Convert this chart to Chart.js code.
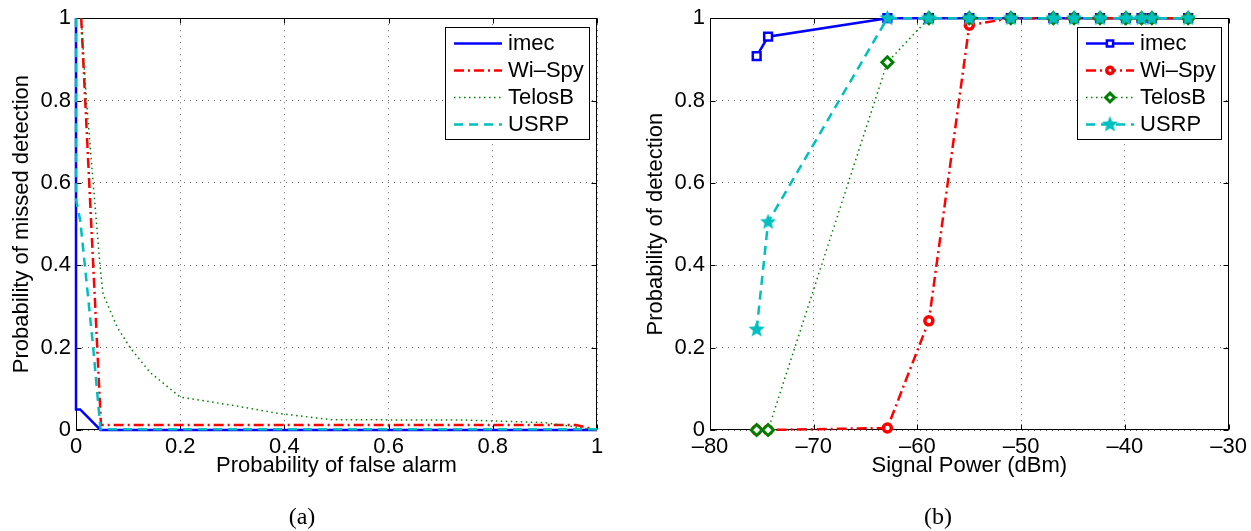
<!DOCTYPE html>
<html>
<head>
<meta charset="utf-8">
<script src="https://cdn.jsdelivr.net/npm/chart.js@4.4.1/dist/chart.umd.min.js"></script>
<style>
	body { margin:0; background:#fff; width:1251px; height:531px; position:relative; overflow:hidden; }
	.panel { position:absolute; top:0; }
	#left-panel { left:0; }
	#right-panel { left:634px; }
	.caption { position:absolute; top:503px; font-family:"Liberation Serif", serif; font-size:24px; color:#000; transform:translateX(-50%); }
</style>
</head>
<body>
<div class="panel" id="left-panel"><canvas id="roc-graph" width="640" height="531"></canvas></div>
<div class="panel" id="right-panel"><canvas id="pd-graph" width="617" height="531"></canvas></div>
<div class="caption" style="left:302px">(a)</div>
<div class="caption" style="left:938px">(b)</div>
<script>
/*************************
DATA
*************************/

//(a) probability of false alarm vs probability of missed detection
const imecFa = [0, 0, 0.008, 0.047, 1];
const imecMiss = [1, 0.05, 0.05, 0, 0];
const wispyFa = [0.01, 0.048, 0.96, 0.99, 1];
const wispyMiss = [1, 0.012, 0.012, 0.003, 0];
const telosbFa = [0.01, 0.02, 0.033, 0.046, 0.052, 0.079, 0.104, 0.142, 0.2, 0.3, 0.39, 0.49, 0.75, 0.9, 0.97, 1];
const telosbMiss = [1, 0.8, 0.6, 0.4, 0.33, 0.25, 0.2, 0.14, 0.08, 0.06, 0.04, 0.025, 0.024, 0.018, 0.005, 0];
const usrpFa = [0, 0, 0.008, 0.017, 0.033, 0.047, 1];
const usrpMiss = [1, 0.56, 0.51, 0.4, 0.2, 0.002, 0.002];

//(b) signal power vs probability of detection
const signalPower = [-75.5, -74.4, -62.9, -58.9, -55.0, -51.0, -46.9, -44.9, -42.4, -39.9, -38.4, -37.4, -33.9];
const imecPd = [0.908, 0.955, 1, 1, 1, 1, 1, 1, 1, 1, 1, 1, 1];
const wispyPd = [0, 0, 0.005, 0.265, 0.983, 1, 1, 1, 1, 1, 1, 1, 1];
const telosbPd = [0, 0, 0.893, 1, 1, 1, 1, 1, 1, 1, 1, 1, 1];
const usrpPd = [0.244, 0.505, 1, 1, 1, 1, 1, 1, 1, 1, 1, 1, 1];

const seriesNames = ['imec', 'Wi\u2013Spy', 'TelosB', 'USRP'];

/*************************
STYLE
*************************/

const blue = '#0000ff';
const red = '#ff0000';
const green = '#008000';
const cyan = '#00bfbf';
const textFont = '"Liberation Sans", Arial, sans-serif';

Chart.defaults.font.family = textFont;
Chart.defaults.font.size = 22;
Chart.defaults.color = '#000';

//filled five point star, used as point style for the USRP markers
function StarImage(color, size){
	const c = document.createElement('canvas');
	c.width = size;
	c.height = size;
	const g = c.getContext('2d');
	const r = size / 2;
	g.beginPath();
	for(let i = 0; i < 10; i++){
		const ang = -Math.PI / 2 + i * Math.PI / 5;
		const rr = i % 2 ? r * 0.45 : r;
		g.lineTo(r + rr * Math.cos(ang), r + rr * Math.sin(ang));
	}
	g.closePath();
	g.fillStyle = color;
	g.fill();
	return c;
}

//pairs two arrays into {x, y} points
function Points(xs, ys){
	return xs.map((x, i) => ({x: x, y: ys[i]}));
}

/*************************
PLUGINS
*************************/

//box round the plot area with small ticks pointing inward, like matlab
const axesBox = {
	id: 'axesBox',
	beforeDatasetsDraw(chart){
		const {ctx, chartArea: a, scales: {x, y}} = chart;
		const L = Math.round(a.left) + 0.5, R = Math.round(a.right) - 0.5;
		const T = Math.round(a.top) + 0.5, B = Math.round(a.bottom) - 0.5;
		ctx.save();
		ctx.strokeStyle = '#000';
		ctx.lineWidth = 1;
		ctx.beginPath();
		x.ticks.forEach(t => {
			const px = Math.round(x.getPixelForValue(t.value)) + 0.5;
			ctx.moveTo(px, B); ctx.lineTo(px, B - 5);
			ctx.moveTo(px, T); ctx.lineTo(px, T + 5);
		});
		y.ticks.forEach(t => {
			const py = Math.round(y.getPixelForValue(t.value)) + 0.5;
			ctx.moveTo(L, py); ctx.lineTo(L + 5, py);
			ctx.moveTo(R, py); ctx.lineTo(R - 5, py);
		});
		ctx.stroke();
		ctx.strokeRect(L, T, R - L, B - T);
		ctx.restore();
	}
};

//legend in a white box at the top right of the plot area
const boxedLegend = {
	id: 'boxedLegend',
	afterDatasetsDraw(chart){
		const {ctx, chartArea: a} = chart;
		const sets = chart.data.datasets;
		const w = 144, rowH = 27;
		const h = sets.length * rowH + 4;
		const left = Math.round(a.right) - 8 - w, top = Math.round(a.top) + 9;
		ctx.save();
		ctx.fillStyle = '#fff';
		ctx.fillRect(left, top, w, h);
		ctx.strokeStyle = '#000';
		ctx.lineWidth = 1;
		ctx.strokeRect(left + 0.5, top + 0.5, w, h);
		ctx.font = '22px ' + textFont;
		ctx.textBaseline = 'middle';
		sets.forEach((ds, i) => {
			const cy = top + 16.5 + i * rowH;
			ctx.strokeStyle = ds.borderColor;
			ctx.lineWidth = ds.borderWidth;
			ctx.setLineDash(ds.borderDash || []);
			ctx.beginPath();
			ctx.moveTo(left + 9, cy);
			ctx.lineTo(left + 57, cy);
			ctx.stroke();
			ctx.setLineDash([]);
			if(ds.pointRadius > 0){
				ctx.fillStyle = ds.pointBackgroundColor;
				ctx.strokeStyle = ds.borderColor;
				ctx.lineWidth = ds.pointBorderWidth;
				Chart.helpers.drawPoint(ctx, {pointStyle: ds.pointStyle, radius: ds.pointRadius * 0.8, borderWidth: ds.pointBorderWidth, rotation: 0}, left + 33, cy);
			}
			ctx.fillStyle = '#000';
			ctx.fillText(ds.label, left + 63, cy);
		});
		ctx.restore();
	}
};

/*************************
OPTIONS
*************************/

function GenerateAxis(min, max, step, title, titlePad, isX){
	return {
		type: 'linear',
		min: min,
		max: max,
		ticks: {
			stepSize: step,
			padding: isX ? 4 : 5,
			font: {size: 22},
			callback: (v) => String(Math.round(v * 10) / 10).replace('-', '\u2013'),
		},
		grid: {
			color: 'rgba(0,0,0,0.6)',
			lineWidth: 1,
			drawTicks: false,
		},
		border: {display: false, dash: [1, 5]},
		title: {
			display: true,
			text: title,
			font: {size: 22},
			padding: isX ? {top: 0, bottom: titlePad} : {top: titlePad, bottom: 0},
		},
		afterFit: (s) => {
			if(isX){ s.height = 55; } else { s.width = 76; }
		},
	};
}

function GenerateGraphOptions(xAxis, yAxis, rightPad){
	return {
		responsive: false,
		animation: false,
		devicePixelRatio: 1,
		layout: {padding: {left: 0, top: 18, right: rightPad, bottom: 46}},
		plugins: {legend: {display: false}, tooltip: {enabled: false}},
		scales: {x: xAxis, y: yAxis},
	};
}

function LineSet(label, data, color, width, dash, order){
	return {
		label: label,
		data: data,
		borderColor: color,
		borderWidth: width,
		borderDash: dash,
		showLine: true,
		fill: false,
		tension: 0,
		pointRadius: 0,
		clip: false,
		order: order,
	};
}

/*************************
GRAPH (a)
*************************/

const rocData = {
	datasets: [
		LineSet(seriesNames[0], Points(imecFa, imecMiss), blue, 2.5, [], 4),
		LineSet(seriesNames[1], Points(wispyFa, wispyMiss), red, 2.5, [10, 4, 2, 4], 3),
		LineSet(seriesNames[2], Points(telosbFa, telosbMiss), green, 1.5, [1.5, 3.5], 2),
		LineSet(seriesNames[3], Points(usrpFa, usrpMiss), cyan, 2.5, [9, 6], 1),
	],
};

new Chart(document.querySelector('#roc-graph').getContext('2d'), {
	type: 'scatter',
	data: rocData,
	options: GenerateGraphOptions(
		GenerateAxis(0, 1, 0.2, 'Probability of false alarm', 6, true),
		GenerateAxis(0, 1, 0.2, 'Probability of missed detection', 9, false),
		43),
	plugins: [axesBox, boxedLegend],
});

/*************************
GRAPH (b)
*************************/

const markerSets = [
	Object.assign(LineSet(seriesNames[0], Points(signalPower, imecPd), blue, 2.5, [], 4),
		{pointStyle: 'rect', pointRadius: 5.5, pointBorderWidth: 2.5, pointBackgroundColor: '#fff', pointBorderColor: blue}),
	Object.assign(LineSet(seriesNames[1], Points(signalPower, wispyPd), red, 2.5, [10, 4, 2, 4], 3),
		{pointStyle: 'circle', pointRadius: 4, pointBorderWidth: 3.5, pointBackgroundColor: '#fff', pointBorderColor: red}),
	Object.assign(LineSet(seriesNames[2], Points(signalPower, telosbPd), green, 1.5, [1.5, 3.5], 2),
		{pointStyle: 'rectRot', pointRadius: 5.5, pointBorderWidth: 3, pointBackgroundColor: '#fff', pointBorderColor: green}),
	Object.assign(LineSet(seriesNames[3], Points(signalPower, usrpPd), cyan, 2.5, [9, 6], 1),
		{pointStyle: StarImage(cyan, 17), pointRadius: 8, pointBorderWidth: 0, pointBackgroundColor: cyan, pointBorderColor: cyan}),
];

new Chart(document.querySelector('#pd-graph').getContext('2d'), {
	type: 'scatter',
	data: {datasets: markerSets},
	options: GenerateGraphOptions(
		GenerateAxis(-80, -30, 10, 'Signal Power (dBm)', 6, true),
		GenerateAxis(0, 1, 0.2, 'Probability of detection', 9, false),
		21),
	plugins: [axesBox, boxedLegend],
});
</script>
</body>
</html>
